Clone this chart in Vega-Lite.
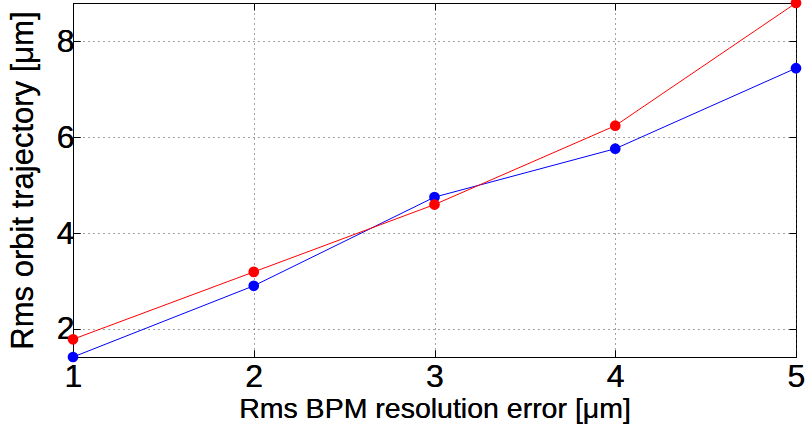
{
  "$schema": "https://vega.github.io/schema/vega-lite/v6.json",
  "width": 723,
  "height": 354,
  "autosize": "none",
  "padding": {"left": 73, "top": 3, "right": 11, "bottom": 77},
  "background": "white",
  "data": {
    "values": [
      {"x": 1, "y": 1.415, "series": "blue"},
      {"x": 2, "y": 2.90, "series": "blue"},
      {"x": 3, "y": 4.75, "series": "blue"},
      {"x": 4, "y": 5.76, "series": "blue"},
      {"x": 5, "y": 7.44, "series": "blue"},
      {"x": 1, "y": 1.785, "series": "red"},
      {"x": 2, "y": 3.19, "series": "red"},
      {"x": 3, "y": 4.595, "series": "red"},
      {"x": 4, "y": 6.24, "series": "red"},
      {"x": 5, "y": 8.8, "series": "red"}
    ]
  },
  "config": {
    "view": {"stroke": "black", "strokeWidth": 1},
    "font": "Liberation Sans",
    "axis": {
      "domainColor": "black",
      "tickColor": "black",
      "labelColor": "black",
      "titleColor": "black",
      "labelFont": "Liberation Sans",
      "titleFont": "Liberation Sans",
      "labelFontSize": 32,
      "titleFontSize": 28,
      "titleFontWeight": "normal",
      "labelFlush": false,
      "labelOverlap": false,
      "tickSize": -7,
      "gridColor": "#444444",
      "gridDash": [1, 4],
      "gridOpacity": 1,
      "gridWidth": 1
    }
  },
  "encoding": {
    "x": {
      "field": "x", "type": "quantitative",
      "scale": {"domain": [1, 5], "nice": false, "zero": false},
      "axis": {"orient": "bottom", "values": [1, 2, 3, 4, 5], "format": "d", "title": "Rms BPM resolution error [μm]", "labelPadding": 11, "titlePadding": 2, "titleFontSize": 28.5}
    },
    "y": {
      "field": "y", "type": "quantitative",
      "scale": {"domain": [1.415, 8.8], "nice": false, "zero": false},
      "axis": {"orient": "left", "values": [2, 4, 6, 8], "format": "d", "title": "Rms orbit trajectory [μm]", "labelPadding": 6, "titlePadding": 17, "titleFontSize": 31}
    },
    "color": {
      "field": "series", "type": "nominal",
      "scale": {"domain": ["blue", "red"], "range": ["#0000ff", "#ff0000"]},
      "legend": null
    }
  },
  "layer": [
    {
      "mark": {"type": "line", "strokeWidth": 1, "clip": false},
      "encoding": {"detail": {"field": "series"}}
    },
    {
      "mark": {"type": "point", "filled": true, "opacity": 1, "size": 115, "shape": "circle", "clip": false}
    },
    {
      "mark": {"type": "point", "opacity": 0},
      "encoding": {
        "x": {
          "field": "x", "type": "quantitative",
          "axis": {"orient": "top", "values": [1, 2, 3, 4, 5], "labels": false, "grid": false, "title": null, "domain": false}
        },
        "y": {
          "field": "y", "type": "quantitative",
          "axis": {"orient": "right", "values": [2, 4, 6, 8], "labels": false, "grid": false, "title": null, "domain": false}
        }
      }
    }
  ],
  "resolve": {"axis": {"x": "independent", "y": "independent"}}
}
